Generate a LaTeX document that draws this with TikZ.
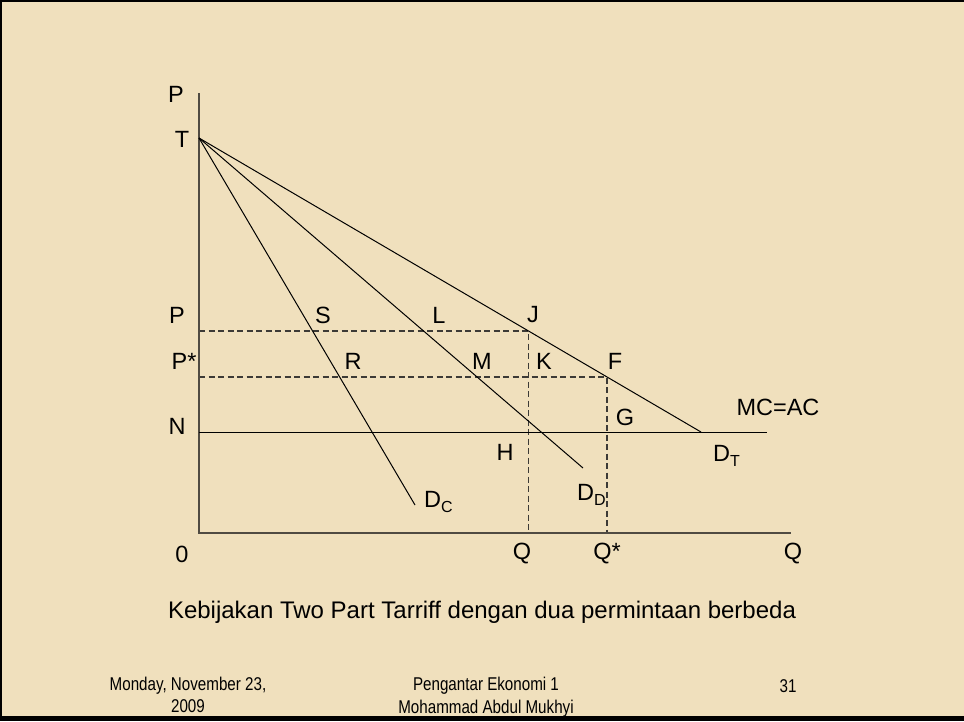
\documentclass[tikz,border=0pt]{standalone}
\usepackage{fontspec}
\setmainfont{Liberation Sans}
\newfontfamily\narrowfont[FakeStretch=0.82]{Liberation Sans}
\definecolor{parch}{RGB}{240,224,189}
\definecolor{axisgray}{RGB}{80,75,66}
\definecolor{dashgray}{RGB}{60,58,54}
\newcommand{\lowsub}[1]{\raisebox{-0.45ex}{\fontsize{16}{16}\selectfont #1}}
\tikzset{
  lbl/.style={inner sep=0pt, font=\fontsize{23.5}{23.5}\selectfont, text=black},
  dlbl/.style={inner sep=0pt, anchor=base west, font=\fontsize{23.5}{23.5}\selectfont},
  curve/.style={draw=black, line width=1pt},
  axis/.style={draw=axisgray, line width=1.4pt},
  guide/.style={draw=dashgray, line width=1.1pt, dash pattern=on 6pt off 3.5pt},
  foot/.style={inner sep=0pt, font=\narrowfont\fontsize{18.5}{18.5}\selectfont},
}
\begin{document}
\begin{tikzpicture}[x=1pt,y=-1pt]
\fill[parch] (0,0) rectangle (964,721);
\useasboundingbox (0,0) rectangle (964,721);
% coordinates
\coordinate (ytop) at (199,93);
\coordinate (O) at (199,533);
\coordinate (xend) at (791,533);
\coordinate (T) at (199,138);
\coordinate (DCend) at (415,505);
\coordinate (DDend) at (583,468);
\coordinate (DTend) at (701,432);
\coordinate (Pax) at (199,331);
\coordinate (J) at (528.5,331);
\coordinate (Jq) at (528.5,533);
\coordinate (Psax) at (199,377);
\coordinate (F) at (607,377);
\coordinate (Fq) at (607,533);
\coordinate (Nax) at (199,432);
\coordinate (Nend) at (767,432);
% guides
\draw[guide] (Pax) -- (J) -- (Jq);
\draw[guide] (Psax) -- (F) -- (Fq);
% axes
\draw[axis] (ytop) -- (O) -- (xend);
% MC=AC line
\draw[curve] (Nax) -- (Nend);
% demand curves
\draw[curve] (T) -- (DCend);
\draw[curve] (T) -- (DDend);
\draw[curve] (T) -- (DTend);
% labels
\node[lbl] (lP1) at (176,94) {P};
\node[lbl] (lT) at (182,139) {T};
\node[lbl] (lP2) at (177,315) {P};
\node[lbl] (lS) at (323,315) {S};
\node[lbl] (lL) at (439,315) {L};
\node[lbl] (lJ) at (533,315) {J};
\node[lbl] (lPs) at (184,361) {P*};
\node[lbl] (lR) at (353,361) {R};
\node[lbl] (lM) at (482,361) {M};
\node[lbl] (lK) at (544,361) {K};
\node[lbl] (lF) at (615,361) {F};
\node[lbl] (lG) at (625,417) {G};
\node[lbl] (lN) at (177,426) {N};
\node[lbl] (lMC) at (778,407) {MC=AC};
\node[lbl] (lH) at (505,452) {H};
\node[dlbl] (lDT) at (713,461) {D\lowsub{T}};
\node[dlbl] (lDC) at (424,507) {D\lowsub{C}};
\node[dlbl] (lDD) at (577,500) {D\lowsub{D}};
\node[lbl] (l0) at (182,554) {0};
\node[lbl] (lQ1) at (522,554) {Q};
\node[lbl] (lQs) at (607,554) {Q*};
\node[lbl] (lQ2) at (793,554) {Q};
\node[lbl, font=\fontsize{24}{24}\selectfont] (cap) at (482,612) {Kebijakan Two Part Tarriff dengan dua permintaan berbeda};
% footer
\node[foot] (f1) at (188,686) {Monday, November 23,};
\node[foot] (f2) at (188,706) {2009};
\node[foot] (f3) at (486,686) {Pengantar Ekonomi 1};
\node[foot] (f4) at (486,709) {Mohammad Abdul Mukhyi};
\node[foot] (f5) at (788,686) {31};
% frame
\draw[black, line width=3pt] (0,721) -- (0,0) -- (964,0);
\fill[black] (0,716) rectangle (964,721);
\end{tikzpicture}
\end{document}
